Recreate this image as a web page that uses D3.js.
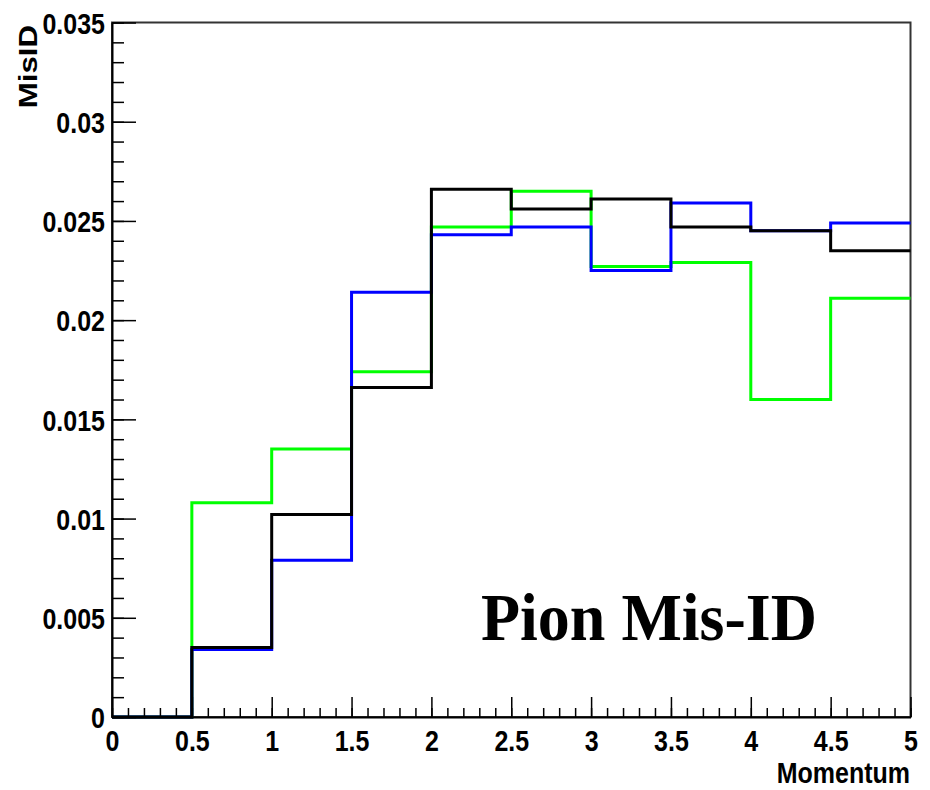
<!DOCTYPE html>
<html>
<head>
<meta charset="utf-8">
<script src="https://cdn.jsdelivr.net/npm/d3@7"></script>
<style>
  body { margin: 0; background: #fff; }
  svg { display: block; }
</style>
</head>
<body>
<div id="chart"></div>
<script>
// bin edges (Momentum)
const binEdges = [0, 0.5, 1, 1.5, 2, 2.5, 3, 3.5, 4, 4.5, 5];
const greenVals = [0, 0.0108, 0.0135, 0.0174, 0.0247, 0.0265, 0.0227, 0.0229, 0.0160, 0.0211];
const blueVals  = [0, 0.0034, 0.0079, 0.0214, 0.0243, 0.0247, 0.0225, 0.0259, 0.0245, 0.0249];
const blackVals = [0, 0.0035, 0.0102, 0.0166, 0.0266, 0.0256, 0.0261, 0.0247, 0.0245, 0.0235];
const xTicks = [0, 0.5, 1, 1.5, 2, 2.5, 3, 3.5, 4, 4.5, 5];
const yTicks = [0, 0.005, 0.01, 0.015, 0.02, 0.025, 0.03, 0.035];

const W = 930, H = 790;
const frameL = 112, frameR = 910.5, frameT = 22.5, frameB = 717;
const sans = "'Liberation Sans', Arial, Helvetica, sans-serif";

const svg = d3.select("#chart").append("svg")
  .attr("width", W)
  .attr("height", H)
  .style("background", "#fff");

const x = d3.scaleLinear().domain([0, 5]).range([frameL, frameR]);
const y = d3.scaleLinear().domain([0, 0.035]).range([frameB, frameT]);

// frame (top / right)
svg.append("rect")
  .attr("x", frameL).attr("y", frameT)
  .attr("width", frameR - frameL).attr("height", frameB - frameT)
  .attr("fill", "none")
  .attr("stroke", "#333")
  .attr("stroke-width", 2);

// histograms
const line = d3.line()
  .x(d => x(d[0]))
  .y(d => y(d[1]))
  .curve(d3.curveStepAfter);
const steps = vals => {
  const pts = vals.map((v, i) => [binEdges[i], v]);
  pts.push([binEdges[binEdges.length - 1], vals[vals.length - 1]]);
  return pts;
};
[[greenVals, "#00ff00"], [blueVals, "#0000ff"], [blackVals, "#000000"]].forEach(([vals, col]) => {
  svg.append("path")
    .datum(steps(vals))
    .attr("d", line)
    .attr("fill", "none")
    .attr("stroke", col)
    .attr("stroke-width", 3);
});

// minor ticks
const yMinor = d3.range(0, 36).map(i => i * 0.001);
const xMinor = d3.range(0, 51).map(i => i * 0.1);
svg.append("g")
  .attr("transform", `translate(${frameL},0)`)
  .call(d3.axisLeft(y).tickValues(yMinor).tickSizeInner(-12).tickSizeOuter(0).tickFormat(""))
  .call(g => g.select(".domain").remove())
  .selectAll("line").attr("stroke", "#000").attr("stroke-width", 1.5);
svg.append("g")
  .attr("transform", `translate(0,${frameB})`)
  .call(d3.axisBottom(x).tickValues(xMinor).tickSizeInner(-9).tickSizeOuter(0).tickFormat(""))
  .call(g => g.select(".domain").remove())
  .selectAll("line").attr("stroke", "#000").attr("stroke-width", 1.5);

// major axes
const yAxis = svg.append("g")
  .attr("transform", `translate(${frameL},0)`)
  .call(d3.axisLeft(y).tickValues(yTicks).tickSizeInner(-24).tickSizeOuter(0).tickPadding(7)
    .tickFormat(d => d === 0 ? "0" : String(+d.toFixed(3))));
yAxis.select(".domain").attr("stroke", "#000").attr("stroke-width", 2);
yAxis.selectAll("line").attr("stroke", "#000").attr("stroke-width", 1.5);
yAxis.selectAll("text")
  .attr("font-family", sans).attr("font-weight", "bold").attr("font-size", 25)
  .attr("fill", "#000")
  .attr("dy", "0.36em")
  .attr("transform", "scale(1,1.2)");

const xAxis = svg.append("g")
  .attr("transform", `translate(0,${frameB})`)
  .call(d3.axisBottom(x).tickValues(xTicks).tickSizeInner(-20).tickSizeOuter(0)
    .tickFormat(d => String(d)));
xAxis.select(".domain").attr("stroke", "#000").attr("stroke-width", 2);
xAxis.selectAll("line").attr("stroke", "#000").attr("stroke-width", 1.5);
xAxis.selectAll("text")
  .attr("font-family", sans).attr("font-weight", "bold").attr("font-size", 25)
  .attr("fill", "#000")
  .attr("y", 28.3).attr("dy", 0)
  .attr("transform", "scale(1,1.2)");

// axis titles
svg.append("text")
  .attr("transform", `translate(910,783) scale(1,1.2)`)
  .attr("text-anchor", "end")
  .attr("font-family", sans).attr("font-weight", "bold").attr("font-size", 25)
  .text("Momentum");

svg.append("text")
  .attr("transform", `translate(37,25) rotate(-90) scale(1.2,1)`)
  .attr("text-anchor", "end")
  .attr("font-family", sans).attr("font-weight", "bold").attr("font-size", 26)
  .text("MisID");

// annotation
svg.append("text")
  .attr("transform", `translate(481,640) scale(1,1.07)`)
  .attr("font-family", "'Liberation Serif', 'Times New Roman', serif")
  .attr("font-weight", "bold").attr("font-size", 64)
  .text("Pion Mis-ID");
</script>
</body>
</html>
